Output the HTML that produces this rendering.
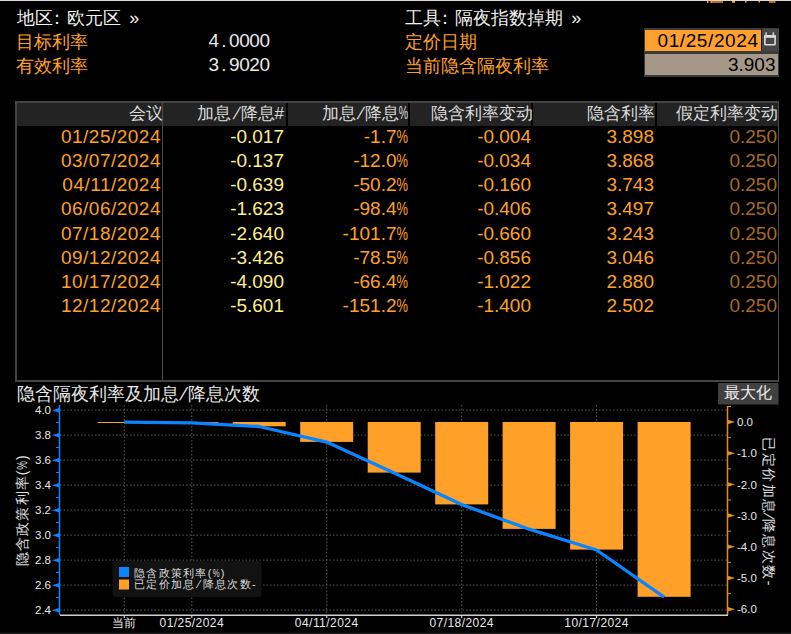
<!DOCTYPE html>
<html><head><meta charset="utf-8">
<style>
html,body{margin:0;padding:0;background:#000;}
body{width:791px;height:634px;overflow:hidden;position:relative;font-family:"Liberation Sans",sans-serif;color:#fff;}
.a{position:absolute;white-space:nowrap;line-height:24px;}
.w{color:#f0f0f0}
.o{color:#ffa028}
.cj{font-size:18px}
.mono{font-size:19px;color:#eaeaea}
.num{font-size:19px}
.r{text-align:right}
#tbl{position:absolute;left:15px;top:101px;width:764px;height:281px;border:2px solid #444;border-right:1px solid #4a4a4a;box-sizing:border-box;}
.hdr{position:absolute;top:103px;height:22.6px;background:#232323;}
.hdt{position:absolute;top:102px;line-height:24px;font-size:17px;color:#dcdcdc;text-align:right;white-space:nowrap}
.y{color:#ffee8c}
.pch{display:inline-block;transform:scale(0.62,1.1);transform-origin:100% 60%;margin-left:-5.8px}
.pcd{display:inline-block;transform:scaleX(0.68);transform-origin:100% 50%;margin-left:-5.4px}
.sl{display:inline-block;transform:skewX(-18deg);margin:0 2.2px}
.sl2{display:inline-block;transform:skewX(-18deg);margin:0 1.5px}
.d{color:#a86b20}
.ax{font-size:12px;color:#e8e8e8;line-height:24px}
.lg{font-size:11px;color:#dcdcdc;line-height:24px;letter-spacing:1.3px}
</style></head><body>
<div style="position:absolute;left:0;top:0;width:791px;height:1px;background:#d8d8d8"></div>
<svg style="position:absolute;left:700px;top:0" width="91" height="5"><g fill="#ffa028">
<rect x="7" y="0.5" width="1.5" height="2.5"/><rect x="10.5" y="0.5" width="1.5" height="2.5"/><rect x="12" y="1.3" width="11" height="1.4"/>
<rect x="32" y="1" width="3" height="1.8"/><rect x="45" y="1" width="1.5" height="1.5"/><rect x="58.5" y="1" width="1.5" height="1.5"/>
<rect x="69" y="1.3" width="6.5" height="1.4"/></g></svg>

<div class="a w cj" style="left:17px;top:6px;">地区<span style="margin-left:-5.3px;margin-right:1.5px">：</span>欧元区<span style="margin-left:8px">»</span></div>
<div class="a o cj" style="left:16px;top:29.6px;">目标利率</div>
<div class="a o cj" style="left:16px;top:53.6px;">有效利率</div>
<div class="a mono" style="left:208.6px;top:29px;"><span style="display:inline-block;width:10.2px;text-align:center">4</span><span style="display:inline-block;width:10.2px;text-align:center">.</span><span style="display:inline-block;width:10.2px;text-align:center">0</span><span style="display:inline-block;width:10.2px;text-align:center">0</span><span style="display:inline-block;width:10.2px;text-align:center">0</span><span style="display:inline-block;width:10.2px;text-align:center">0</span></div>
<div class="a mono" style="left:208.6px;top:53px;"><span style="display:inline-block;width:10.2px;text-align:center">3</span><span style="display:inline-block;width:10.2px;text-align:center">.</span><span style="display:inline-block;width:10.2px;text-align:center">9</span><span style="display:inline-block;width:10.2px;text-align:center">0</span><span style="display:inline-block;width:10.2px;text-align:center">2</span><span style="display:inline-block;width:10.2px;text-align:center">0</span></div>

<div class="a w cj" style="left:405px;top:6px;">工具<span style="margin-left:-5.3px;margin-right:1.5px">：</span>隔夜指数掉期<span style="margin-left:8px">»</span></div>
<div class="a o cj" style="left:405px;top:30px;">定价日期</div>
<div class="a o cj" style="left:405px;top:54px;">当前隐含隔夜利率</div>

<!-- date box -->
<div style="position:absolute;left:644px;top:28px;width:135px;height:49px;background:#3a3a3a;"></div>
<div style="position:absolute;left:645px;top:30px;width:116px;height:21px;background:#ffa030;"></div>
<div style="position:absolute;left:645px;top:54px;width:133px;height:21px;background:#a59888;"></div>
<div class="a num" style="left:640px;top:28.5px;width:118px;text-align:right;color:#000;line-height:24px;letter-spacing:0.6px">01/25/202<span style="letter-spacing:0">4</span></div>
<div class="a num" style="left:645px;top:53px;width:130.5px;text-align:right;color:#000;line-height:24px">3.903</div>
<svg style="position:absolute;left:761px;top:29px" width="18" height="22" viewBox="0 0 18 22">
<rect x="0" y="0" width="18" height="22" fill="#464646"/>
<rect x="0" y="0" width="1" height="22" fill="#1a1a1a"/>
<rect x="3.9" y="6.9" width="10.2" height="8.8" fill="none" stroke="#dcdcdc" stroke-width="1.6" rx="0.8"/>
<rect x="3.2" y="6.2" width="11.6" height="2.6" fill="#dcdcdc"/>
<rect x="4.3" y="3.3" width="1.5" height="3" fill="#cfcfcf"/>
<rect x="11.6" y="3.3" width="1.5" height="3" fill="#cfcfcf"/>
</svg>

<!-- table -->
<div id="tbl"></div>
<div class="hdr" style="left:17px;width:145px"></div>
<div class="hdr" style="left:163px;width:123px"></div>
<div class="hdr" style="left:288px;width:120px"></div>
<div class="hdr" style="left:410px;width:121px"></div>
<div class="hdr" style="left:533px;width:122px"></div>
<div class="hdr" style="left:657px;width:121px"></div>
<div style="position:absolute;left:162px;top:103px;width:1px;height:277px;background:#4a4a4a"></div>

<div class="hdt" style="left:16px;width:146.5px">会议</div>
<div class="hdt" style="left:163px;width:121px">加息<span class="sl">/</span>降息#</div>
<div class="hdt" style="left:288px;width:120px">加息<span class="sl">/</span>降息<span class="pch">%</span></div>
<div class="hdt" style="left:410px;width:122.5px">隐含利率变动</div>
<div class="hdt" style="left:533px;width:121.5px">隐含利率</div>
<div class="hdt" style="left:657px;width:121px">假定利率变动</div>

<div class="a num o" style="right:630px;top:125.2px;letter-spacing:0.5px;">01/25/2024</div>
<div class="a num y" style="right:507px;top:125.2px;">-0.017</div>
<div class="a num o" style="right:383px;top:125.2px;">-1.7<span class="pcd">%</span></div>
<div class="a num o" style="right:260px;top:125.2px;">-0.004</div>
<div class="a num o" style="right:137px;top:125.2px;">3.898</div>
<div class="a num d" style="right:14px;top:125.2px;">0.250</div>
<div class="a num o" style="right:630px;top:149.3px;letter-spacing:0.5px;">03/07/2024</div>
<div class="a num y" style="right:507px;top:149.3px;">-0.137</div>
<div class="a num o" style="right:383px;top:149.3px;">-12.0<span class="pcd">%</span></div>
<div class="a num o" style="right:260px;top:149.3px;">-0.034</div>
<div class="a num o" style="right:137px;top:149.3px;">3.868</div>
<div class="a num d" style="right:14px;top:149.3px;">0.250</div>
<div class="a num o" style="right:630px;top:173.4px;letter-spacing:0.5px;">04/11/2024</div>
<div class="a num y" style="right:507px;top:173.4px;">-0.639</div>
<div class="a num o" style="right:383px;top:173.4px;">-50.2<span class="pcd">%</span></div>
<div class="a num o" style="right:260px;top:173.4px;">-0.160</div>
<div class="a num o" style="right:137px;top:173.4px;">3.743</div>
<div class="a num d" style="right:14px;top:173.4px;">0.250</div>
<div class="a num o" style="right:630px;top:197.4px;letter-spacing:0.5px;">06/06/2024</div>
<div class="a num y" style="right:507px;top:197.4px;">-1.623</div>
<div class="a num o" style="right:383px;top:197.4px;">-98.4<span class="pcd">%</span></div>
<div class="a num o" style="right:260px;top:197.4px;">-0.406</div>
<div class="a num o" style="right:137px;top:197.4px;">3.497</div>
<div class="a num d" style="right:14px;top:197.4px;">0.250</div>
<div class="a num o" style="right:630px;top:221.5px;letter-spacing:0.5px;">07/18/2024</div>
<div class="a num y" style="right:507px;top:221.5px;">-2.640</div>
<div class="a num o" style="right:383px;top:221.5px;">-101.7<span class="pcd">%</span></div>
<div class="a num o" style="right:260px;top:221.5px;">-0.660</div>
<div class="a num o" style="right:137px;top:221.5px;">3.243</div>
<div class="a num d" style="right:14px;top:221.5px;">0.250</div>
<div class="a num o" style="right:630px;top:245.6px;letter-spacing:0.5px;">09/12/2024</div>
<div class="a num y" style="right:507px;top:245.6px;">-3.426</div>
<div class="a num o" style="right:383px;top:245.6px;">-78.5<span class="pcd">%</span></div>
<div class="a num o" style="right:260px;top:245.6px;">-0.856</div>
<div class="a num o" style="right:137px;top:245.6px;">3.046</div>
<div class="a num d" style="right:14px;top:245.6px;">0.250</div>
<div class="a num o" style="right:630px;top:269.7px;letter-spacing:0.5px;">10/17/2024</div>
<div class="a num y" style="right:507px;top:269.7px;">-4.090</div>
<div class="a num o" style="right:383px;top:269.7px;">-66.4<span class="pcd">%</span></div>
<div class="a num o" style="right:260px;top:269.7px;">-1.022</div>
<div class="a num o" style="right:137px;top:269.7px;">2.880</div>
<div class="a num d" style="right:14px;top:269.7px;">0.250</div>
<div class="a num o" style="right:630px;top:293.8px;letter-spacing:0.5px;">12/12/2024</div>
<div class="a num y" style="right:507px;top:293.8px;">-5.601</div>
<div class="a num o" style="right:383px;top:293.8px;">-151.2<span class="pcd">%</span></div>
<div class="a num o" style="right:260px;top:293.8px;">-1.400</div>
<div class="a num o" style="right:137px;top:293.8px;">2.502</div>
<div class="a num d" style="right:14px;top:293.8px;">0.250</div>

<!-- chart title -->
<div class="a w cj" style="left:17px;top:381.5px;color:#e8e8e8">隐含隔夜利率及加息<span class="sl">/</span>降息次数</div>
<div style="position:absolute;left:719px;top:384px;width:60px;height:21px;background:#222"></div><div style="position:absolute;left:718px;top:383px;width:60px;height:20.5px;background:#404040"></div>
<div class="a" style="left:718px;top:381px;width:60px;text-align:center;color:#f0f0f0;font-size:16px">最大化</div>

<svg style="position:absolute;left:0;top:0" width="791" height="634" viewBox="0 0 791 634">
<line x1="60" y1="410.1" x2="727" y2="410.1" stroke="#5a5a5a" stroke-width="1" stroke-dasharray="1.5,2"/>
<line x1="60" y1="435.1" x2="727" y2="435.1" stroke="#5a5a5a" stroke-width="1" stroke-dasharray="1.5,2"/>
<line x1="60" y1="460.1" x2="727" y2="460.1" stroke="#5a5a5a" stroke-width="1" stroke-dasharray="1.5,2"/>
<line x1="60" y1="485.1" x2="727" y2="485.1" stroke="#5a5a5a" stroke-width="1" stroke-dasharray="1.5,2"/>
<line x1="60" y1="510.1" x2="727" y2="510.1" stroke="#5a5a5a" stroke-width="1" stroke-dasharray="1.5,2"/>
<line x1="60" y1="535.1" x2="727" y2="535.1" stroke="#5a5a5a" stroke-width="1" stroke-dasharray="1.5,2"/>
<line x1="60" y1="560.1" x2="727" y2="560.1" stroke="#5a5a5a" stroke-width="1" stroke-dasharray="1.5,2"/>
<line x1="60" y1="585.1" x2="727" y2="585.1" stroke="#5a5a5a" stroke-width="1" stroke-dasharray="1.5,2"/>
<line x1="60" y1="610.1" x2="727" y2="610.1" stroke="#5a5a5a" stroke-width="1" stroke-dasharray="1.5,2"/>
<line x1="124.3" y1="405" x2="124.3" y2="615" stroke="#5a5a5a" stroke-width="1" stroke-dasharray="1.5,2"/>
<line x1="191.8" y1="405" x2="191.8" y2="615" stroke="#5a5a5a" stroke-width="1" stroke-dasharray="1.5,2"/>
<line x1="326.7" y1="405" x2="326.7" y2="615" stroke="#5a5a5a" stroke-width="1" stroke-dasharray="1.5,2"/>
<line x1="461.7" y1="405" x2="461.7" y2="615" stroke="#5a5a5a" stroke-width="1" stroke-dasharray="1.5,2"/>
<line x1="596.6" y1="405" x2="596.6" y2="615" stroke="#5a5a5a" stroke-width="1" stroke-dasharray="1.5,2"/>
<rect x="97.8" y="422.0" width="53" height="1.0" fill="#ffa028"/>
<rect x="165.3" y="422.0" width="53" height="1.0" fill="#ffa028"/>
<rect x="232.7" y="422.0" width="53" height="4.3" fill="#ffa028"/>
<rect x="300.2" y="422.0" width="53" height="19.9" fill="#ffa028"/>
<rect x="367.7" y="422.0" width="53" height="50.6" fill="#ffa028"/>
<rect x="435.2" y="422.0" width="53" height="82.4" fill="#ffa028"/>
<rect x="502.6" y="422.0" width="53" height="106.9" fill="#ffa028"/>
<rect x="570.1" y="422.0" width="53" height="127.6" fill="#ffa028"/>
<rect x="637.6" y="422.0" width="53" height="174.8" fill="#ffa028"/>
<polyline points="124.3,422.1 191.8,422.8 259.2,426.5 326.7,442.1 394.2,472.9 461.7,504.6 529.1,529.2 596.6,550.0 664.1,597.2" fill="none" stroke="#0a84ff" stroke-width="3.3" stroke-linejoin="round"/>
<line x1="59.5" y1="405" x2="59.5" y2="615" stroke="#0a84ff" stroke-width="1.5"/>
<path d="M52 410.3 L60 407.8 L60 412.8 Z" fill="#0a84ff"/>
<line x1="56" y1="422.5" x2="60" y2="422.5" stroke="#0a84ff" stroke-width="1"/>
<path d="M52 435.3 L60 432.8 L60 437.8 Z" fill="#0a84ff"/>
<line x1="56" y1="447.5" x2="60" y2="447.5" stroke="#0a84ff" stroke-width="1"/>
<path d="M52 460.3 L60 457.8 L60 462.8 Z" fill="#0a84ff"/>
<line x1="56" y1="472.5" x2="60" y2="472.5" stroke="#0a84ff" stroke-width="1"/>
<path d="M52 485.3 L60 482.8 L60 487.8 Z" fill="#0a84ff"/>
<line x1="56" y1="497.5" x2="60" y2="497.5" stroke="#0a84ff" stroke-width="1"/>
<path d="M52 510.3 L60 507.8 L60 512.8 Z" fill="#0a84ff"/>
<line x1="56" y1="522.5" x2="60" y2="522.5" stroke="#0a84ff" stroke-width="1"/>
<path d="M52 535.3 L60 532.8 L60 537.8 Z" fill="#0a84ff"/>
<line x1="56" y1="547.5" x2="60" y2="547.5" stroke="#0a84ff" stroke-width="1"/>
<path d="M52 560.3 L60 557.8 L60 562.8 Z" fill="#0a84ff"/>
<line x1="56" y1="572.5" x2="60" y2="572.5" stroke="#0a84ff" stroke-width="1"/>
<path d="M52 585.3 L60 582.8 L60 587.8 Z" fill="#0a84ff"/>
<line x1="56" y1="597.5" x2="60" y2="597.5" stroke="#0a84ff" stroke-width="1"/>
<path d="M52 610.3 L60 607.8 L60 612.8 Z" fill="#0a84ff"/>
<line x1="727.5" y1="406" x2="727.5" y2="615" stroke="#e08e24" stroke-width="1.5"/>
<line x1="727" y1="406.5" x2="731" y2="406.5" stroke="#e08e24" stroke-width="1"/>
<path d="M735 422.0 L727 419.5 L727 424.5 Z" fill="#e08e24"/>
<line x1="727" y1="437.6" x2="731" y2="437.6" stroke="#e08e24" stroke-width="1"/>
<path d="M735 453.2 L727 450.7 L727 455.7 Z" fill="#e08e24"/>
<line x1="727" y1="468.8" x2="731" y2="468.8" stroke="#e08e24" stroke-width="1"/>
<path d="M735 484.4 L727 481.9 L727 486.9 Z" fill="#e08e24"/>
<line x1="727" y1="500.0" x2="731" y2="500.0" stroke="#e08e24" stroke-width="1"/>
<path d="M735 515.6 L727 513.1 L727 518.1 Z" fill="#e08e24"/>
<line x1="727" y1="531.2" x2="731" y2="531.2" stroke="#e08e24" stroke-width="1"/>
<path d="M735 546.8 L727 544.3 L727 549.3 Z" fill="#e08e24"/>
<line x1="727" y1="562.4" x2="731" y2="562.4" stroke="#e08e24" stroke-width="1"/>
<path d="M735 578.0 L727 575.5 L727 580.5 Z" fill="#e08e24"/>
<line x1="727" y1="593.6" x2="731" y2="593.6" stroke="#e08e24" stroke-width="1"/>
<path d="M735 609.2 L727 606.7 L727 611.7 Z" fill="#e08e24"/>
<line x1="60" y1="615.2" x2="728" y2="615.2" stroke="#d0d0d0" stroke-width="1.5"/>
<line x1="124.3" y1="615" x2="124.3" y2="618" stroke="#d0d0d0" stroke-width="1.2"/>
<line x1="191.8" y1="615" x2="191.8" y2="618" stroke="#d0d0d0" stroke-width="1.2"/>
<line x1="326.7" y1="615" x2="326.7" y2="618" stroke="#d0d0d0" stroke-width="1.2"/>
<line x1="461.7" y1="615" x2="461.7" y2="618" stroke="#d0d0d0" stroke-width="1.2"/>
<line x1="596.6" y1="615" x2="596.6" y2="618" stroke="#d0d0d0" stroke-width="1.2"/>
<rect x="112.5" y="561" width="149" height="36" rx="3" fill="#121212"/>
<rect x="119" y="567" width="10" height="10" fill="#0a84ff"/>
<rect x="119" y="579.5" width="10" height="10" fill="#ffa028"/>
<rect x="0" y="632.6" width="791" height="1.4" fill="#1e1e1e"/>
</svg>
<div class="a ax" style="right:740px;top:397.7px;font-size:11.5px">4.0</div>
<div class="a ax" style="right:740px;top:422.7px;font-size:11.5px">3.8</div>
<div class="a ax" style="right:740px;top:447.7px;font-size:11.5px">3.6</div>
<div class="a ax" style="right:740px;top:472.7px;font-size:11.5px">3.4</div>
<div class="a ax" style="right:740px;top:497.7px;font-size:11.5px">3.2</div>
<div class="a ax" style="right:740px;top:522.7px;font-size:11.5px">3.0</div>
<div class="a ax" style="right:740px;top:547.7px;font-size:11.5px">2.8</div>
<div class="a ax" style="right:740px;top:572.7px;font-size:11.5px">2.6</div>
<div class="a ax" style="right:740px;top:597.7px;font-size:11.5px">2.4</div>
<div class="a ax" style="left:737px;top:410.2px;font-size:11.5px">0.0</div>
<div class="a ax" style="left:737px;top:441.4px;font-size:11.5px">-1.0</div>
<div class="a ax" style="left:737px;top:472.6px;font-size:11.5px">-2.0</div>
<div class="a ax" style="left:737px;top:503.8px;font-size:11.5px">-3.0</div>
<div class="a ax" style="left:737px;top:535.0px;font-size:11.5px">-4.0</div>
<div class="a ax" style="left:737px;top:566.2px;font-size:11.5px">-5.0</div>
<div class="a ax" style="left:737px;top:597.4px;font-size:11.5px">-6.0</div>
<div class="a ax" style="left:64.3px;width:120px;text-align:center;top:611px;letter-spacing:0.45px">当前</div>
<div class="a ax" style="left:131.8px;width:120px;text-align:center;top:611px;letter-spacing:0.45px">01/25/2024</div>
<div class="a ax" style="left:266.7px;width:120px;text-align:center;top:611px;letter-spacing:0.45px">04/11/2024</div>
<div class="a ax" style="left:401.7px;width:120px;text-align:center;top:611px;letter-spacing:0.45px">07/18/2024</div>
<div class="a ax" style="left:536.6px;width:120px;text-align:center;top:611px;letter-spacing:0.45px">10/17/2024</div>
<div class="a lg" style="left:134px;top:560.5px">隐含政策利率(<span style="display:inline-block;transform:scaleX(0.7);margin:0 -1.5px">%</span>)</div>
<div class="a lg" style="left:134px;top:572px">已定价加息<span class="sl2">/</span>降息次数-</div>
<div class="a ax" style="left:22px;top:510px;transform:translate(-50%,-50%) rotate(-90deg);font-size:14px;letter-spacing:1.1px;color:#e0e0e0">隐含政策利率(<span style="display:inline-block;transform:scaleX(0.7);margin:0 -2px">%</span>)</div>
<div class="a ax" style="left:768.5px;top:512px;transform:translate(-50%,-50%) rotate(90deg);font-size:14px;letter-spacing:1.45px;color:#e0e0e0">已定价加息<span class="sl2" style="margin:0 -0.5px">/</span>降息次数-</div>
</body></html>
